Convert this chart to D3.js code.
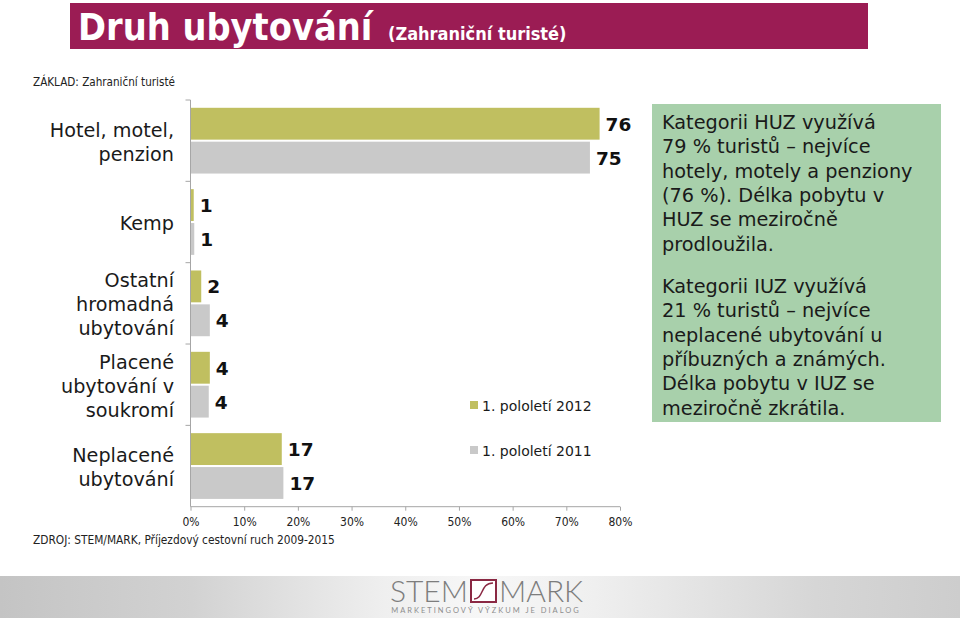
<!DOCTYPE html>
<html><head><meta charset="utf-8">
<script src="https://cdn.jsdelivr.net/npm/d3@7"></script>
<style>
body{margin:0;background:#fff;}
svg{display:block;}
</style></head>
<body>
<svg id="c" width="960" height="618"></svg>
<script>
const categories = [
  ["Hotel, motel,","penzion"],
  ["Kemp"],
  ["Ostatní","hromadná","ubytování"],
  ["Placené","ubytování v","soukromí"],
  ["Neplacené","ubytování"]
];
const seriesNames = ["1. pololetí 2012","1. pololetí 2011"];
const values2012 = [76.2, 0.6, 2.0, 3.6, 17.0];
const values2011 = [74.4, 0.7, 3.6, 3.4, 17.3];
const labels2012 = ["76","1","2","4","17"];
const labels2011 = ["75","1","4","4","17"];
const xTicks = [0,10,20,30,40,50,60,70,80];
const noteParagraphs = [
  ["Kategorii HUZ využívá","79 % turistů – nejvíce","hotely, motely a penziony","(76 %). Délka pobytu v","HUZ se meziročně","prodloužila."],
  ["Kategorii IUZ využívá","21 % turistů – nejvíce","neplacené ubytování u","příbuzných a známých.","Délka pobytu v IUZ se","meziročně zkrátila."]
];

const colors = ["#C0BF60","#C9C9C9"];
const svg = d3.select("#c");
const F = "'DejaVu Sans', sans-serif";
const FC = "'DejaVu Sans Condensed', sans-serif";

// Title bar
svg.append("rect").attr("x",70).attr("y",3).attr("width",798).attr("height",46).attr("fill","#9B1C54");
const t = svg.append("text").attr("x",78).attr("y",40).attr("fill","#fff")
  .style("font-family",FC).style("font-weight","bold");
t.append("tspan").style("font-size","37.5px").text("Druh ubytování");
t.append("tspan").attr("x",388).style("font-size","18px").text("(Zahraniční turisté)");

svg.append("text").attr("x",33).attr("y",86).style("font-family",FC)
  .style("font-size","11.6px").attr("fill","#222").text("ZÁKLAD: Zahraniční turisté");

// Chart
const x = d3.scaleLinear().domain([0,80]).range([190.5,620]);
const y = d3.scaleBand().domain(d3.range(categories.length)).range([100,506.7]);
const inner = d3.scaleBand().domain([0,1]).range([0,y.bandwidth()]).paddingOuter(0.23).paddingInner(0.06);

const g = svg.append("g");
const series = [values2012, values2011];
const labs = [labels2012, labels2011];
series.forEach((vals,si)=>{
  g.selectAll(null).data(vals).enter().append("rect")
    .attr("x",x(0)).attr("y",(d,i)=>y(i)+inner(si))
    .attr("width",d=>x(d)-x(0)).attr("height",inner.bandwidth())
    .attr("fill",colors[si]);
  g.selectAll(null).data(vals).enter().append("text")
    .attr("x",d=>x(d)+6).attr("y",(d,i)=>y(i)+inner(si)+inner.bandwidth()/2+7)
    .style("font-family",F).style("font-weight","bold").style("font-size","18.5px").attr("fill","#111")
    .text((d,i)=>labs[si][i]);
});

// Y axis
const ax = svg.append("g").attr("stroke","#A6A6A6").attr("stroke-width",1);
ax.append("line").attr("x1",x(0)).attr("x2",x(0)).attr("y1",100).attr("y2",506.7);
const bounds = d3.range(categories.length).map(i=> y(i));
ax.selectAll(null).data(bounds).enter().append("line")
  .attr("x1",x(0)-5).attr("x2",x(0)).attr("y1",d=>d).attr("y2",d=>d);

// X axis
const xa = svg.append("g").attr("transform","translate(0,506.7)")
  .call(d3.axisBottom(x).tickValues(xTicks).tickSize(4).tickFormat(d=>d+"%"));
xa.select(".domain").attr("stroke","#A6A6A6").attr("d",`M${x(0)},0H${x(80)}`);
xa.selectAll(".tick line").attr("stroke","#A6A6A6");
xa.selectAll(".tick text").attr("y",11).style("font-family",FC).style("font-size","12px").attr("fill","#222");

// Category labels
categories.forEach((lines,i)=>{
  const cy = y(i)+y.bandwidth()/2;
  const lh = 24;
  const start = cy - (lines.length-1)*lh/2 + 8;
  const tx = svg.append("text").attr("text-anchor","end").style("font-family",F).style("font-size","19.2px").attr("fill","#1a1a1a");
  lines.forEach((l,j)=>tx.append("tspan").attr("x",174).attr("y",start+j*lh).text(l));
});

// Legend
const leg = svg.append("g");
seriesNames.forEach((n,i)=>{
  const ly = 405 + i*45;
  leg.append("rect").attr("x",470).attr("y",ly-4).attr("width",8).attr("height",8).attr("fill",colors[i]);
  leg.append("text").attr("x",482).attr("y",ly+6).style("font-family",F)
    .style("font-size","14px").attr("fill","#1a1a1a").text(n);
});

// Note box
svg.append("rect").attr("x",652).attr("y",104).attr("width",289).attr("height",318).attr("fill","#A8D0AB");
const starts = [129, 293];
noteParagraphs.forEach((p,pi)=>{
  const tx = svg.append("text").style("font-family",F).style("font-size","19.3px").attr("fill","#1a1a1a");
  p.forEach((l,j)=>tx.append("tspan").attr("x",662).attr("y",starts[pi]+j*24.3).text(l));
});

// Source
svg.append("text").attr("x",33).attr("y",544).style("font-family",FC)
  .style("font-size","11.8px").attr("fill","#222").text("ZDROJ: STEM/MARK, Příjezdový cestovní ruch 2009-2015");

// Footer band
const defs = svg.append("defs");
const gr = defs.append("linearGradient").attr("id","fg");
[[0,"#C4C4C4"],[0.2,"#D2D2D2"],[0.4,"#EFEFEF"],[0.5,"#F7F7F7"],[0.62,"#EFEFEF"],[0.85,"#D6D6D6"],[1,"#CDCDCD"]]
  .forEach(([o,c])=>gr.append("stop").attr("offset",o).attr("stop-color",c));
svg.append("rect").attr("x",0).attr("y",576).attr("width",960).attr("height",42).attr("fill","url(#fg)");
const logoF = "Lato, 'Open Sans', sans-serif";
svg.append("text").attr("x",468).attr("y",602).attr("text-anchor","end").style("font-family",logoF)
  .style("font-weight","300").style("font-size","30px").attr("fill","#7d7d7d").text("STEM");
svg.append("text").attr("x",499).attr("y",602).style("font-family",logoF)
  .style("font-weight","300").style("font-size","30px").attr("fill","#7d7d7d").text("MARK");
svg.append("rect").attr("x",471).attr("y",580).attr("width",25).attr("height",22).attr("fill","#fff").attr("stroke","#8A2843").attr("stroke-width",2);
svg.append("path").attr("d","M474,599 C484,599 480,583 493,583").attr("fill","none").attr("stroke","#8A2843").attr("stroke-width",1.5);
svg.append("text").attr("x",486).attr("y",613).attr("text-anchor","middle").style("font-family",logoF)
  .style("font-size","7.5px").style("letter-spacing","2px").attr("fill","#8d8d8d").text("MARKETINGOVÝ VÝZKUM JE DIALOG");
</script>
</body></html>
